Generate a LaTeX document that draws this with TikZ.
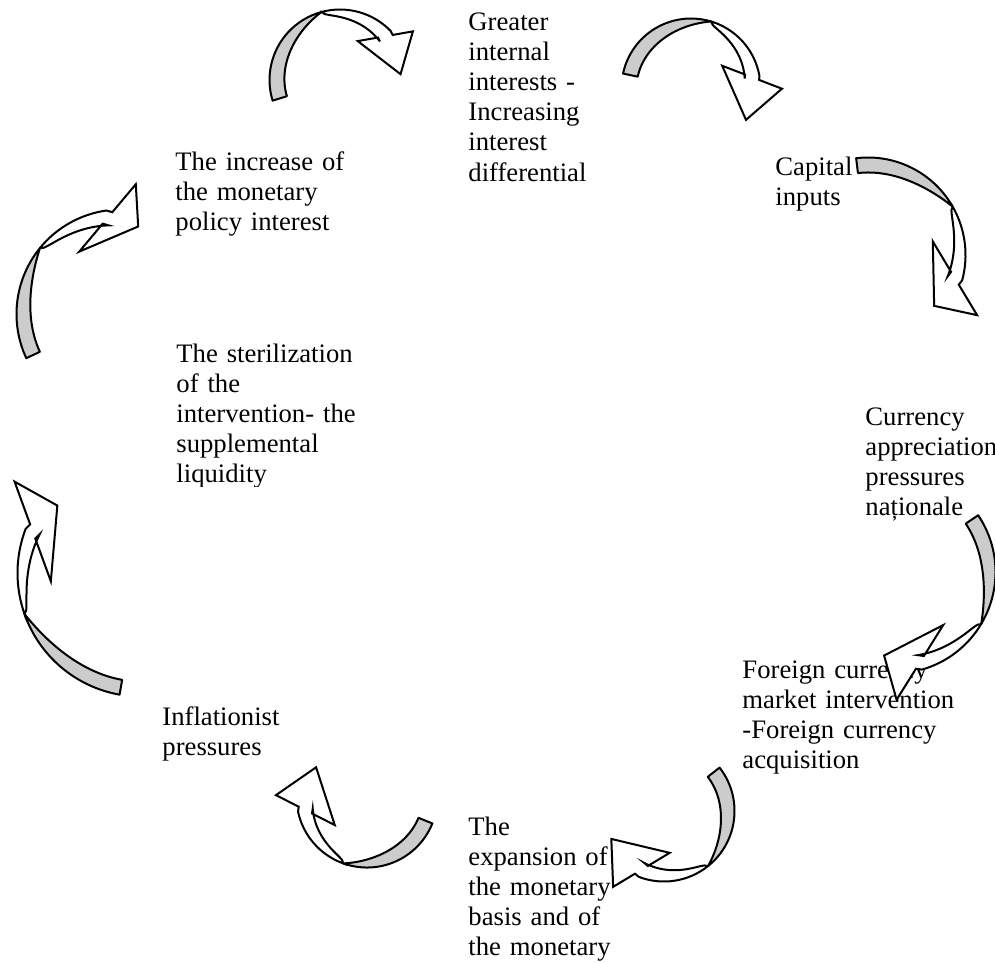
\documentclass[tikz,border=0pt]{standalone}
\usepackage{fontspec}
\setmainfont{Liberation Serif}

\tikzset{
  backside/.style={draw=black, fill=black!20, line width=0.9pt, line join=round},
  frontside/.style={draw=black, fill=white, line width=0.9pt},
  boxtext/.style={anchor=base west, inner sep=0pt, text width=6cm, align=left, font=\fontsize{12}{13.6}\selectfont},
}

% curved block arrow, clockwise from the tail angle to the head angle
% #1 centre, #2 tail angle, #3 head angle, #4 radius, #5 half head width, #6 head length, #7 head turn
\newcommand{\bentarrow}[7]{%
\begin{scope}[shift={#1}]
\pgfmathsetmacro{\ro}{#4+7.5}
\pgfmathsetmacro{\ri}{#4-7.5}
\pgfmathsetmacro{\tw}{#2+0.6*(#3-#2)}
\pgfmathsetmacro{\ha}{#3+#7}
\pgfmathsetmacro{\tipx}{#6*cos(\ha-90)+0.3*#5*cos(\ha)}
\pgfmathsetmacro{\tipy}{#6*sin(\ha-90)+0.3*#5*sin(\ha)}
% grey back half
\draw[backside] (#2:\ro) arc[start angle=#2, end angle=\tw, radius=\ro]
  -- plot[domain=\tw:#2, samples=30, variable=\t] (\t:{\ri+15*abs((\t-(#2))/(\tw-(#2)))^3}) -- cycle;
% white front half with the head
\draw[frontside] (\tw:\ro) arc[start angle=\tw, end angle=#3, radius=\ro]
  -- ([shift={(\ha:7.5)}]#3:#4) -- ([shift={(\ha:#5)}]#3:#4) -- ([shift={(\tipx,\tipy)}]#3:#4)
  -- ([shift={(\ha:-#5)}]#3:#4) -- ([shift={(\ha:-7.5)}]#3:#4) -- (#3:\ri)
  -- plot[domain=#3:\tw, samples=30, variable=\t] (\t:{\ro-15*sqrt(abs((\t-(\tw))/(#3-(\tw))))}) -- cycle;
\end{scope}}

\begin{document}
\begin{tikzpicture}[x=0.45pt, y=0.45pt]
\useasboundingbox (0,-962) rectangle (995,0);

% Draw the texts
\node (greater) at (468,-30) [boxtext]{Greater\\internal\\interests -\\Increasing\\interest\\differential};
\node (capital) at (775,-175) [boxtext]{Capital\\inputs};
\node (currency) at (865,-425) [boxtext]{Currency\\appreciation\\pressures\\naționale};
\node (foreign) at (742,-678) [boxtext]{Foreign currency\\market intervention\\-Foreign currency\\acquisition};
\node (expansion) at (468,-835) [boxtext]{The\\expansion of\\the monetary\\basis and of\\the monetary};
\node (inflation) at (162,-725) [boxtext]{Inflationist\\pressures};
\begin{scope}
% the text box cuts its last line
\clip (150,-320) rectangle (420,-486);
\node (sterilization) at (176,-362) [boxtext]{The sterilization\\of the\\intervention- the\\supplemental\\liquidity};
\end{scope}
\node (increase) at (175,-170) [boxtext]{The increase of\\the monetary\\policy interest};

% Draw the curved arrows, clockwise round the cycle
\bentarrow{(340,-80)}{197}{44}{63}{28}{40}{-34}
\bentarrow{(691,-88)}{168}{10}{62}{32}{42}{-31}
\bentarrow{(868,-255)}{97}{-15}{90}{43}{32}{-44}
\bentarrow{(894,-572)}{34}{-74}{94}{44}{34}{-48}
\bentarrow{(664,-811)}{38}{-111}{63}{33}{42}{-38}
\bentarrow{(367,-797)}{-22}{-168}{63}{33}{43}{-39}
\bentarrow{(141,-573)}{260}{159}{116}{53}{32}{-49}
\bentarrow{(121,-314)}{205}{98}{97}{44}{29}{-48}
\end{tikzpicture}
\end{document}
